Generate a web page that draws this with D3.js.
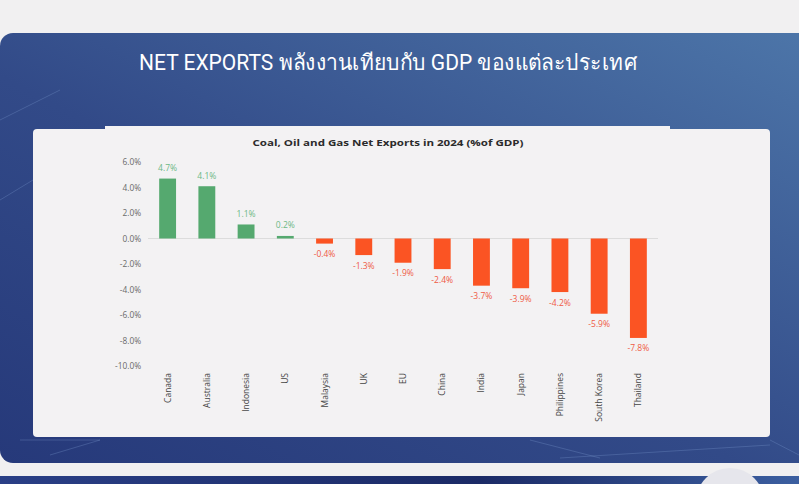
<!DOCTYPE html>
<html>
<head>
<meta charset="utf-8">
<script src="https://cdn.jsdelivr.net/npm/d3@7"></script>
<style>
  body { margin: 0; background: #f1f0f1; }
  svg { display: block; }
</style>
</head>
<body>
<div id="chart"></div>
<script>
// chart data
var countries = ["Canada", "Australia", "Indonesia", "US", "Malaysia", "UK", "EU",
                 "China", "India", "Japan", "Philippines", "South Korea", "Thailand"];
var netExports = [4.7, 4.1, 1.1, 0.2, -0.4, -1.3, -1.9, -2.4, -3.7, -3.9, -4.2, -5.9, -7.8];
var yTicks = [6, 4, 2, 0, -2, -4, -6, -8, -10];

var W = 799, H = 484;

var svg = d3.select("#chart")
  .append("svg")
  .attr("width", W)
  .attr("height", H);

// background gradients
var defs = svg.append("defs");
var bg = defs.append("linearGradient")
  .attr("id", "slideBg")
  .attr("x1", 0).attr("y1", 1).attr("x2", 1).attr("y2", 0);
bg.append("stop").attr("offset", "0%").attr("stop-color", "#26397a");
bg.append("stop").attr("offset", "45%").attr("stop-color", "#324a88");
bg.append("stop").attr("offset", "100%").attr("stop-color", "#4d76a9");

var band = defs.append("linearGradient")
  .attr("id", "bandBg")
  .attr("x1", 0).attr("y1", 0).attr("x2", 1).attr("y2", 0);
band.append("stop").attr("offset", "0%").attr("stop-color", "#2a3f86");
band.append("stop").attr("offset", "60%").attr("stop-color", "#1b2a66");
band.append("stop").attr("offset", "100%").attr("stop-color", "#3c5fa0");

// blue slide
svg.append("rect")
  .attr("x", 0).attr("y", 33)
  .attr("width", W + 20).attr("height", 430)
  .attr("rx", 13)
  .attr("fill", "url(#slideBg)");

// faint decorative lines on the slide
var deco = [[0, 120, 60, 90], [0, 200, 33, 180], [20, 440, 100, 440], [50, 455, 100, 440],
            [530, 440, 600, 458], [560, 458, 770, 445], [770, 440, 799, 455]];
svg.selectAll(".deco")
  .data(deco)
  .enter()
  .append("line")
  .attr("x1", d => d[0]).attr("y1", d => d[1])
  .attr("x2", d => d[2]).attr("y2", d => d[3])
  .attr("stroke", "#7d9bd0")
  .attr("stroke-opacity", 0.3)
  .attr("stroke-width", 1);

// bottom band of next slide
svg.append("rect")
  .attr("x", 0).attr("y", 476)
  .attr("width", W).attr("height", 10)
  .attr("fill", "url(#bandBg)");
svg.append("circle")
  .attr("cx", 730).attr("cy", 502)
  .attr("r", 34)
  .attr("fill", "#e6e6ec");

// slide title
svg.append("text")
  .attr("x", 388)
  .attr("y", 70)
  .attr("text-anchor", "middle")
  .attr("textLength", 498)
  .attr("lengthAdjust", "spacingAndGlyphs")
  .style("font-family", "'Liberation Sans Narrow', 'Roboto', sans-serif")
  .style("font-size", "22px")
  .style("fill", "#ffffff")
  .text("NET EXPORTS พลังงานเทียบกับ GDP ของแต่ละประเทศ");

// white panel
svg.append("rect")
  .attr("x", 33).attr("y", 129)
  .attr("width", 737).attr("height", 308)
  .attr("rx", 4)
  .attr("fill", "#f3f2f3");
svg.append("rect")
  .attr("x", 105).attr("y", 126)
  .attr("width", 565).attr("height", 6)
  .attr("fill", "#f3f2f3");

// chart title
svg.append("text")
  .attr("x", 388)
  .attr("y", 146)
  .attr("text-anchor", "middle")
  .attr("textLength", 271)
  .attr("lengthAdjust", "spacingAndGlyphs")
  .style("font-family", "'Open Sans', sans-serif")
  .style("font-weight", "bold")
  .style("font-size", "9.5px")
  .style("fill", "#2b2b2b")
  .text("Coal, Oil and Gas Net Exports in 2024 (%of GDP)");

// scales
var x = d3.scaleBand()
  .domain(countries)
  .range([148, 658])
  .paddingInner(0.57)
  .paddingOuter(0.285);

var y = d3.scaleLinear()
  .domain([-10, 6])
  .range([366, 162]);

var data = countries.map((c, i) => ({ name: c, value: netExports[i] }));

// y axis
var yAxis = svg.append("g")
  .attr("transform", "translate(141,0)")
  .call(d3.axisLeft(y)
    .tickValues(yTicks)
    .tickSize(0)
    .tickPadding(0)
    .tickFormat(d => d.toFixed(1) + "%"));
yAxis.select(".domain").remove();
yAxis.selectAll("text")
  .style("font-family", "'Open Sans', sans-serif")
  .style("font-size", "8.3px")
  .style("fill", "#6a6a6a");

// zero line
svg.append("line")
  .attr("x1", 148).attr("x2", 658)
  .attr("y1", y(0)).attr("y2", y(0))
  .attr("stroke", "#dcdcdc")
  .attr("stroke-width", 1);

// bars
svg.selectAll(".bar")
  .data(data)
  .enter()
  .append("rect")
  .attr("class", "bar")
  .attr("x", d => x(d.name))
  .attr("y", d => y(Math.max(0, d.value)))
  .attr("width", x.bandwidth())
  .attr("height", d => Math.abs(y(d.value) - y(0)))
  .attr("fill", d => d.value >= 0 ? "#55a96f" : "#fb5423");

// value labels
svg.selectAll(".val")
  .data(data)
  .enter()
  .append("text")
  .attr("class", "val")
  .attr("x", d => x(d.name) + x.bandwidth() / 2)
  .attr("y", d => d.value >= 0 ? y(d.value) - 7.5 : y(d.value) + 13.5)
  .attr("text-anchor", "middle")
  .style("font-family", "'Open Sans', sans-serif")
  .style("font-size", "8.5px")
  .style("fill", d => d.value >= 0 ? "#6cb886" : "#ef5a45")
  .text(d => d.value.toFixed(1) + "%");

// category axis
var xAxis = svg.append("g")
  .attr("transform", "translate(0,371)")
  .call(d3.axisBottom(x).tickSize(0).tickPadding(0));
xAxis.select(".domain").remove();
xAxis.selectAll("text")
  .attr("transform", "rotate(-90)")
  .attr("x", -2)
  .attr("y", 0)
  .attr("dy", "0.35em")
  .attr("text-anchor", "end")
  .style("font-family", "'Open Sans', sans-serif")
  .style("font-size", "8.5px")
  .style("fill", "#444");
</script>
</body>
</html>
